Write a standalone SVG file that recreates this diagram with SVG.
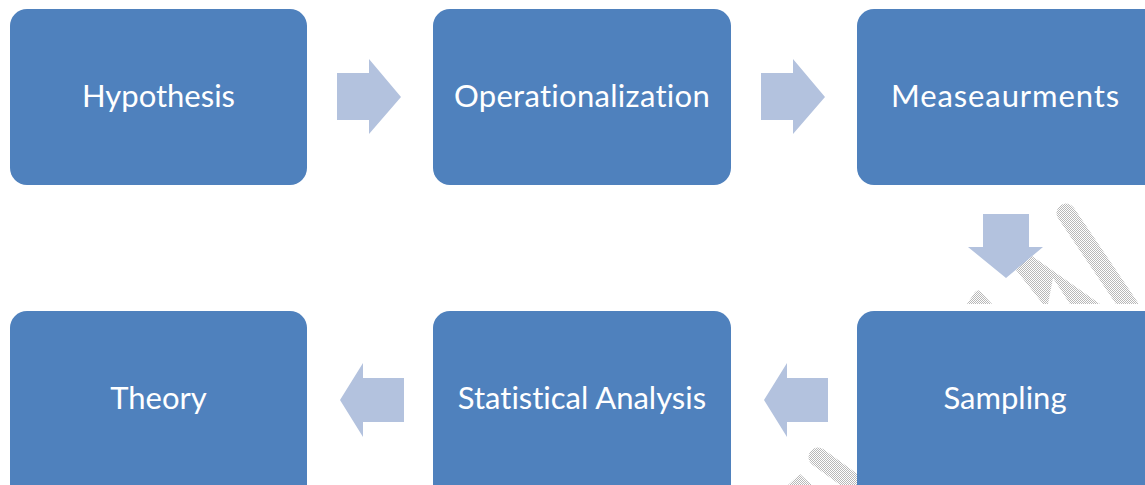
<svg xmlns="http://www.w3.org/2000/svg" width="1145" height="485" viewBox="0 0 1145 485">
  <defs>
    <pattern id="dither" width="2" height="2" patternUnits="userSpaceOnUse">
      <rect width="2" height="2" fill="#ffffff"/>
      <rect width="1" height="1" fill="#b8b8b8"/>
      <rect x="1" y="1" width="1" height="1" fill="#b8b8b8"/>
    </pattern>
    <clipPath id="clipTop"><rect x="0" y="190" width="1145" height="114"/></clipPath>
    <clipPath id="clipBot"><rect x="740" y="400" width="117" height="85"/></clipPath>
    <style>
      .box { fill: #4F81BD; }
      .lbl { fill: #ffffff; font-family: Lato, "Open Sans", "Liberation Sans", sans-serif; font-size: 31px; text-anchor: middle; font-variant-ligatures: none; }
      .arr { fill: #B3C2DE; }
      .wm { fill: url(#dither); }
      .wms { stroke: url(#dither); stroke-linecap: round; fill: none; }
    </style>
  </defs>
  <rect width="1145" height="485" fill="#ffffff"/>

  <g id="watermark">
    <g clip-path="url(#clipTop)">
      <line class="wms" x1="1066" y1="213" x2="1145" y2="330" stroke-width="19"/>
      <polygon class="wm" points="1010,255 1032,256 1100,304 1070,304 1053,278 1048,304 1043,304 1012,265"/>
      <polygon class="wm" points="967,304 975,292 978,290 981,292 992,304"/>
    </g>
    <g clip-path="url(#clipBot)">
      <line class="wms" x1="818" y1="457" x2="870" y2="495" stroke-width="19"/>
      <polygon class="wm" points="788,485 800,474 812,485"/>
    </g>
  </g>

  <g id="node-hypothesis">
    <rect class="box" x="10" y="9" width="297" height="176" rx="17"/>
    <text class="lbl" x="158.5" y="107">Hypothesis</text>
  </g>
  <g id="node-operationalization">
    <rect class="box" x="433" y="9" width="298" height="176" rx="17"/>
    <text class="lbl" x="582" y="107" letter-spacing="0.3">Operationalization</text>
  </g>
  <g id="node-measeaurments">
    <rect class="box" x="857" y="9" width="310" height="176" rx="17"/>
    <text class="lbl" x="1005.5" y="107" letter-spacing="0.9">Measeaurments</text>
  </g>
  <g id="node-theory">
    <rect class="box" x="10" y="311" width="297" height="200" rx="17"/>
    <text class="lbl" x="158.5" y="409">Theory</text>
  </g>
  <g id="node-statistical-analysis">
    <rect class="box" x="433" y="311" width="298" height="200" rx="17"/>
    <text class="lbl" x="582" y="409">Statistical Analysis</text>
  </g>
  <g id="node-sampling">
    <rect class="box" x="857" y="311" width="310" height="200" rx="17"/>
    <text class="lbl" x="1005" y="409">Sampling</text>
  </g>

  <g id="connectors">
    <polygon class="arr" points="337,73 369,73 369,59 401,97 369,134 369,120 337,120"/>
    <polygon class="arr" points="761,73 793,73 793,59 825,97 793,134 793,120 761,120"/>
    <polygon class="arr" points="983,214 1029,214 1029,247 1043,247 1006,278 968,247 983,247"/>
    <polygon class="arr" points="828,378 787,378 787,363 764,400 787,437 787,422 828,422"/>
    <polygon class="arr" points="404,378 363,378 363,363 340,400 363,437 363,422 404,422"/>
  </g>
</svg>
